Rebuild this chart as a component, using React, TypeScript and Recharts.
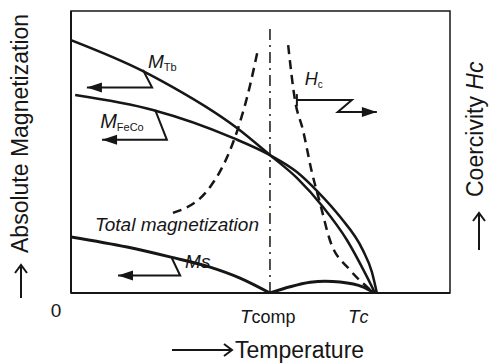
import React from "react";
import {
  ComposedChart,
  Line,
  XAxis,
  YAxis,
  ReferenceArea,
  ReferenceLine,
  ReferenceDot,
} from "recharts";

const FONT = '"Liberation Sans", Arial, sans-serif';
const INK = "#161616";

// temperature axis runs 0..100, magnetization 0..100 (arbitrary units)
const T_COMP = 52.5;
const T_CURIE = 80.2;

const xTicks = [0, T_COMP, T_CURIE];
const xTickLabels = [
  ["0", ""],
  ["T", "comp"],
  ["T", "c"],
];

// sublattice magnetizations
const mTb = [
  { t: 0, m: 89.7 },
  { t: 19.0, m: 78.7 },
  { t: 23.5, m: 75.5 },
  { t: 43.8, m: 58.5 },
  { t: 52.5, m: 48.9 },
  { t: 59.6, m: 40.8 },
  { t: 66.5, m: 30.5 },
  { t: 72.8, m: 18.8 },
  { t: 78.1, m: 5.7 },
  { t: 80.2, m: 0 },
];

const mFeCo = [
  { t: 1.1, m: 70.2 },
  { t: 21.6, m: 64.9 },
  { t: 42.7, m: 55.0 },
  { t: 52.5, m: 48.9 },
  { t: 59.6, m: 42.9 },
  { t: 65.2, m: 35.8 },
  { t: 71.0, m: 27.0 },
  { t: 77.0, m: 15.2 },
  { t: 79.4, m: 7.4 },
  { t: 80.7, m: 0 },
];

// total magnetization, split at the compensation point
const msLow = [
  { t: 0, m: 19.9 },
  { t: 14.8, m: 16.3 },
  { t: 26.1, m: 12.8 },
  { t: 36.7, m: 9.2 },
  { t: 44.6, m: 5.3 },
  { t: 52.5, m: 0 },
];

const msHigh = [
  { t: 52.5, m: 0 },
  { t: 57.8, m: 2.2 },
  { t: 63.1, m: 3.8 },
  { t: 67.0, m: 4.2 },
  { t: 71.0, m: 3.9 },
  { t: 77.0, m: 2.2 },
  { t: 80.2, m: 0 },
];

// coercivity (dashed), diverging at Tcomp
const hcLow = [
  { t: 26.9, m: 28.4 },
  { t: 36.7, m: 37.6 },
  { t: 41.2, m: 48.2 },
  { t: 44.1, m: 58.5 },
  { t: 47.2, m: 73.4 },
  { t: 49.3, m: 86.2 },
];

const hcHigh = [
  { t: 57.3, m: 87.9 },
  { t: 59.1, m: 68.4 },
  { t: 61.2, m: 57.8 },
  { t: 63.6, m: 42.6 },
  { t: 65.7, m: 31.9 },
  { t: 68.3, m: 18.8 },
  { t: 73.6, m: 8.2 },
  { t: 78.4, m: 1.8 },
  { t: 79.9, m: 0 },
];

// pointer arrows that tie each curve to its axis
const tbArrow = [
  { t: 19.0, m: 79.1 },
  { t: 21.4, m: 72.9 },
  { t: 4.2, m: 72.9 },
];
const feCoArrow = [
  { t: 22.2, m: 64.9 },
  { t: 25.3, m: 54.3 },
  { t: 8.2, m: 54.3 },
];
const msArrow = [
  { t: 26.6, m: 12.4 },
  { t: 28.8, m: 6.2 },
  { t: 12.4, m: 6.2 },
];
const hcArrow = [
  { t: 59.6, m: 68.4 },
  { t: 74.1, m: 68.4 },
  { t: 70.4, m: 64.2 },
  { t: 80.7, m: 64.2 },
];

const arrowDot =
  (dir: "left" | "right", last: number, startTick = false) =>
  (props: any) => {
    const { cx, cy, index } = props;
    if (index === last) {
      const s = dir === "left" ? 1 : -1;
      const d = `M${cx},${cy} L${cx + s * 15},${cy - 5} L${cx + s * 15},${cy + 5} Z`;
      return <path key={`a${index}`} d={d} fill={INK} />;
    }
    if (startTick && index === 0) {
      return (
        <line key="t0" x1={cx} x2={cx} y1={cy - 6} y2={cy + 6} stroke={INK} strokeWidth={2} />
      );
    }
    return <g key={`n${index}`} />;
  };

function XTick(props: any) {
  const { x, y, payload } = props;
  const i = xTicks.indexOf(payload.value);
  if (i < 0) return null;
  const [a, b] = xTickLabels[i];
  if (i === 0) {
    return (
      <text x={x - 15} y={y + 24} textAnchor="middle" fontSize={19} fontFamily={FONT} fill={INK}>
        {a}
      </text>
    );
  }
  const dx = i === 1 ? -30 : -27;
  return (
    <text x={x + dx} y={y + 30} fontSize={18} fontFamily={FONT} fill={INK}>
      <tspan fontStyle="italic" fontSize={19}>{a}</tspan>
      <tspan fontStyle={i === 2 ? "italic" : "normal"}>{b}</tspan>
    </text>
  );
}

function Tag(props: any) {
  const { viewBox, main, sub, size = 19, subSize = 11 } = props;
  return (
    <text x={viewBox.x} y={viewBox.y} fontSize={size} fontFamily={FONT} fill={INK}>
      <tspan fontStyle="italic">{main}</tspan>
      {sub ? (
        <tspan fontSize={subSize} dy={3}>
          {sub}
        </tspan>
      ) : null}
    </text>
  );
}

export default function App() {
  return (
    <div style={{ position: "absolute", left: 0, top: 0, width: 491, height: 364, background: "#fff" }}>
      <ComposedChart width={491} height={364} margin={{ top: 11, right: 41, bottom: 41, left: 71 }}>
        <XAxis
          type="number"
          dataKey="t"
          domain={[0, 100]}
          ticks={xTicks}
          interval={0}
          tick={<XTick />}
          tickLine={false}
          tickSize={0}
          tickMargin={0}
          height={30}
          axisLine={{ stroke: INK, strokeWidth: 2 }}
          allowDataOverflow
        />
        <YAxis type="number" domain={[0, 100]} hide allowDataOverflow />

        {/* frame */}
        <ReferenceArea x1={0} x2={100} y1={0} y2={100} fill="none" fillOpacity={0} stroke={INK} strokeWidth={1.5} />
        <ReferenceLine x={0} stroke={INK} strokeWidth={2} />

        {/* compensation temperature */}
        <ReferenceLine
          segment={[
            { x: T_COMP, y: 0 },
            { x: T_COMP, y: 94 },
          ]}
          stroke={INK}
          strokeWidth={1.5}
          strokeDasharray="11 5 2 5"
        />

        <Line data={mTb} dataKey="m" type="monotone" stroke={INK} strokeWidth={2.5} dot={false} isAnimationActive={false} />
        <Line data={mFeCo} dataKey="m" type="monotone" stroke={INK} strokeWidth={2.5} dot={false} isAnimationActive={false} />
        <Line data={msLow} dataKey="m" type="monotone" stroke={INK} strokeWidth={3} dot={false} isAnimationActive={false} />
        <Line data={msHigh} dataKey="m" type="monotone" stroke={INK} strokeWidth={3} dot={false} isAnimationActive={false} />
        <Line data={hcLow} dataKey="m" type="monotone" stroke={INK} strokeWidth={2.5} strokeDasharray="9 6" dot={false} isAnimationActive={false} />
        <Line data={hcHigh} dataKey="m" type="monotone" stroke={INK} strokeWidth={2.5} strokeDasharray="9 6" dot={false} isAnimationActive={false} />

        <Line data={tbArrow} dataKey="m" type="linear" stroke={INK} strokeWidth={2} dot={arrowDot("left", 2)} isAnimationActive={false} />
        <Line data={feCoArrow} dataKey="m" type="linear" stroke={INK} strokeWidth={2} dot={arrowDot("left", 2)} isAnimationActive={false} />
        <Line data={msArrow} dataKey="m" type="linear" stroke={INK} strokeWidth={2} dot={arrowDot("left", 2)} isAnimationActive={false} />
        <Line data={hcArrow} dataKey="m" type="linear" stroke={INK} strokeWidth={2} dot={arrowDot("right", 3, true)} isAnimationActive={false} />

        <ReferenceDot x={20.3} y={79.8} r={0} fill="none" stroke="none" label={<Tag main="M" sub="Tb" />} />
        <ReferenceDot x={7.7} y={58.5} r={0} fill="none" stroke="none" label={<Tag main="M" sub="FeCo" size={20} />} />
        <ReferenceDot x={61.7} y={73.8} r={0} fill="none" stroke="none" label={<Tag main="H" sub="c" size={18} subSize={10} />} />
        <ReferenceDot x={6.3} y={22.0} r={0} fill="none" stroke="none" label={<Tag main="Total magnetization" />} />
        <ReferenceDot x={30.1} y={8.9} r={0} fill="none" stroke="none" label={<Tag main="Ms" />} />
      </ComposedChart>

      <svg
        width={491}
        height={364}
        style={{ position: "absolute", left: 0, top: 0, pointerEvents: "none" }}
        fontFamily={FONT}
        fill={INK}
      >
        <text transform="translate(28,253) rotate(-90)" fontSize={23}>
          Absolute Magnetization
        </text>
        <line x1={21} x2={21} y1={298} y2={265} stroke={INK} strokeWidth={2} />
        <path d="M15,273 L21,265 L27,273" fill="none" stroke={INK} strokeWidth={2} />

        <text transform="translate(483,197) rotate(-90)" fontSize={23}>
          Coercivity <tspan fontStyle="italic">Hc</tspan>
        </text>
        <line x1={479} x2={479} y1={250} y2={213} stroke={INK} strokeWidth={2} />
        <path d="M473,221 L479,213 L485,221" fill="none" stroke={INK} strokeWidth={2} />

        <line x1={172} x2={232} y1={350} y2={350} stroke={INK} strokeWidth={2} />
        <path d="M224,344 L232,350 L224,356" fill="none" stroke={INK} strokeWidth={2} />
        <text x={235} y={358} fontSize={23}>
          Temperature
        </text>
      </svg>
    </div>
  );
}
